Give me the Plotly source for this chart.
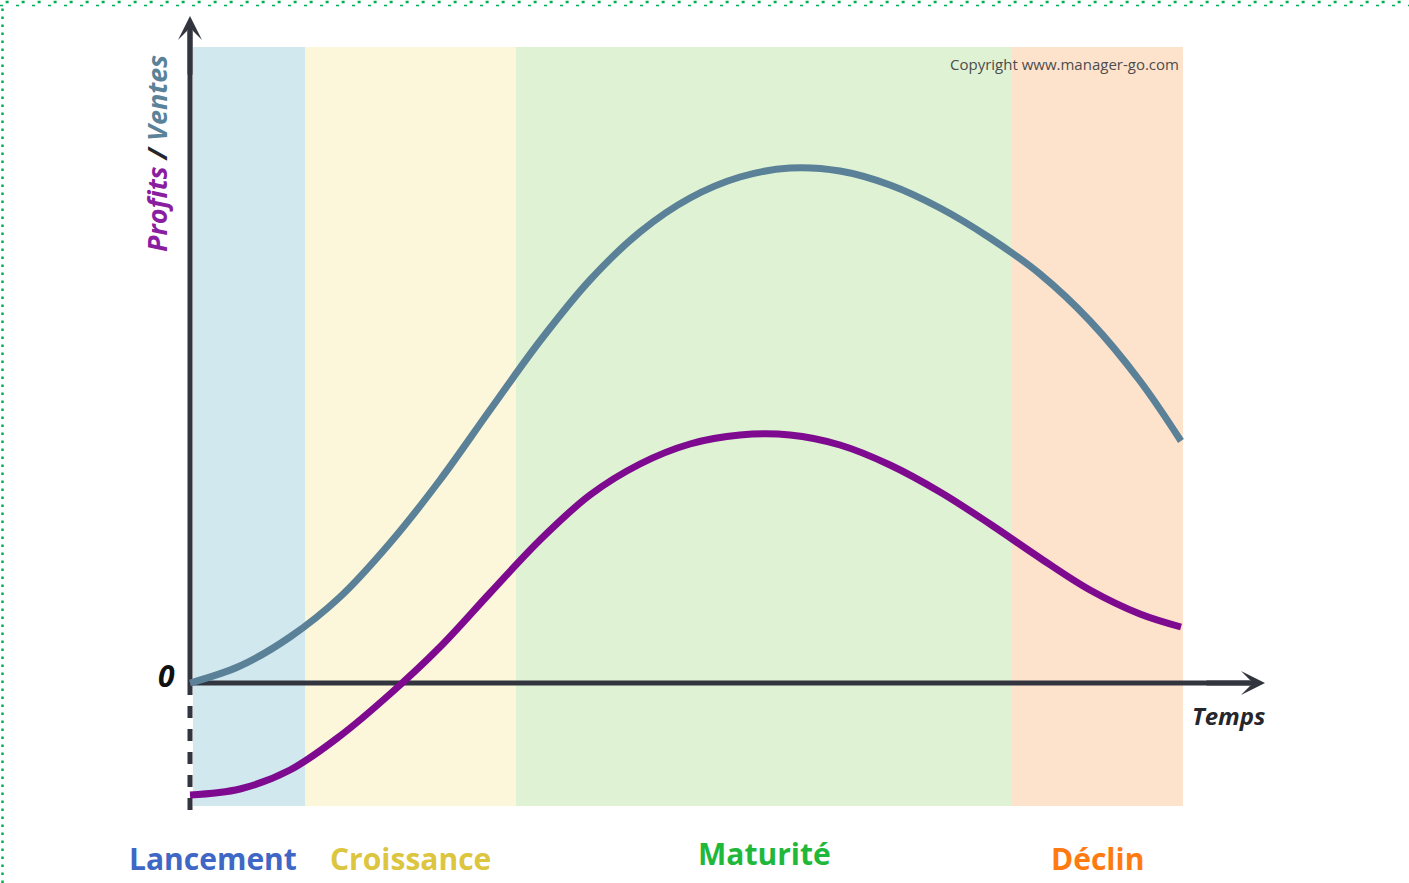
import plotly.graph_objects as go

# ---------------- data (time units, value units) ----------------
phase_names = ["Lancement", "Croissance", "Maturité", "Déclin"]
phase_edges = [0, 11.5, 32.6, 82.2, 99.3]
phase_fill = ["#d1e8ee", "#fcf7da", "#dff2d4", "#fee3cc"]
phase_text_color = ["#3f67c5", "#dcc53f", "#1fb83b", "#ff7b12"]

time_t = [0, 5, 10, 15, 20, 25, 30, 35, 40, 45, 50, 55, 60, 65, 70, 75, 80, 85, 90, 95, 99.1]
ventes_v = [0, 1.7, 4.6, 8.6, 14.0, 20.3, 27.3, 34.2, 40.3, 45.1, 48.5, 50.6, 51.5, 51.2,
            49.8, 47.5, 44.5, 40.9, 36.2, 30.2, 24.2]
profits_v = [-11.2, -10.6, -8.7, -5.3, -1.1, 3.6, 9.0, 14.3, 18.8, 21.9, 23.9, 24.8, 24.8,
             23.8, 21.8, 19.1, 15.9, 12.5, 9.3, 6.9, 5.6]

band_top = 63.6
band_bottom = -12.3
x_axis_end = 107.5
y_axis_top = 66.7
y_axis_dash_end = -12.7

W, H = 1409, 883
AXIS_COLOR = "#32343e"


def tx(px):
    return (px - 190) / 10.0


def vy(py):
    return (683 - py) / 10.0


fig = go.Figure()

# phase bands
for i in range(4):
    fig.add_shape(type="rect", xref="x", yref="y",
                  x0=phase_edges[i] + (0.3 if i == 0 else 0), x1=phase_edges[i + 1],
                  y0=band_bottom, y1=band_top,
                  fillcolor=phase_fill[i], line=dict(width=0), layer="below")

# axes (below curves)
fig.add_shape(type="line", xref="x", yref="y", x0=0, x1=x_axis_end - 1.5, y0=0, y1=0,
              line=dict(color=AXIS_COLOR, width=5), layer="below")
fig.add_shape(type="line", xref="x", yref="y", x0=0, x1=0, y0=0, y1=y_axis_top - 1.5,
              line=dict(color=AXIS_COLOR, width=5), layer="below")
fig.add_shape(type="line", xref="x", yref="y", x0=0, x1=0, y0=0, y1=y_axis_dash_end,
              line=dict(color=AXIS_COLOR, width=5, dash="12px,11px"), layer="below")

# curves
fig.add_trace(go.Scatter(x=time_t, y=ventes_v, mode="lines", name="Ventes",
                         line=dict(color="#5a8197", width=7, shape="spline", smoothing=1.0),
                         hoverinfo="skip"))
fig.add_trace(go.Scatter(x=time_t, y=profits_v, mode="lines", name="Profits",
                         line=dict(color="#7d0a8f", width=7, shape="spline", smoothing=1.0),
                         hoverinfo="skip"))

annotations = []
# arrow heads
annotations.append(dict(x=x_axis_end, y=0, ax=x_axis_end - 6, ay=0, xref="x", yref="y",
                        axref="x", ayref="y", text="", showarrow=True, arrowhead=3,
                        arrowwidth=5, arrowsize=0.8, arrowcolor=AXIS_COLOR))
annotations.append(dict(x=0, y=y_axis_top, ax=0, ay=y_axis_top - 6, xref="x", yref="y",
                        axref="x", ayref="y", text="", showarrow=True, arrowhead=3,
                        arrowwidth=5, arrowsize=0.8, arrowcolor=AXIS_COLOR))

# phase labels
label_pos = [(213, 858), (410, 858), (764, 853), (1097, 858)]
for name, col, (px, py) in zip(phase_names, phase_text_color, label_pos):
    annotations.append(dict(x=tx(px), y=vy(py), xref="x", yref="y", text="<b>%s</b>" % name,
                            showarrow=False, xanchor="center", yanchor="middle",
                            font=dict(family="Open Sans", size=30, color=col)))

# zero label
annotations.append(dict(x=tx(166), y=vy(675), xref="x", yref="y", text="<b><i>0</i></b>",
                        showarrow=False, font=dict(family="Open Sans", size=30, color="#111111")))
# Temps label
annotations.append(dict(x=tx(1228), y=vy(715), xref="x", yref="y", text="<b><i>Temps</i></b>",
                        showarrow=False, font=dict(family="Open Sans", size=24, color="#25262c")))
# y title
annotations.append(dict(x=tx(156), y=vy(154), xref="x", yref="y", textangle=-90,
                        text="<b><i><span style='color:#8a1ea0'>Profits</span>"
                             "<span style='color:#25262c'> / </span>"
                             "<span style='color:#5a8298'>Ventes</span></i></b>",
                        showarrow=False, font=dict(family="Open Sans", size=27)))
# copyright
annotations.append(dict(x=tx(1181), y=vy(64), xref="x", yref="y", xanchor="right",
                        text="Copyright www.manager-go.com", showarrow=False,
                        font=dict(family="Open Sans", size=15, color="#4d4d4d")))

fig.update_layout(annotations=annotations)

# dotted frame (decoration)
fig.add_shape(type="line", xref="paper", yref="paper", x0=0.004, x1=1, y0=1 - 2 / H, y1=1 - 2 / H,
              line=dict(color="#00b050", width=2.5, dash="3px,13px"))
fig.add_shape(type="line", xref="paper", yref="paper", x0=0.0, x1=1, y0=1 - 5.5 / H, y1=1 - 5.5 / H,
              line=dict(color="#00b050", width=1.5, dash="3px,13px"))
fig.add_shape(type="line", xref="paper", yref="paper", x0=2.5 / W, x1=2.5 / W, y0=0, y1=1 - 8 / H,
              line=dict(color="#00b050", width=2.5, dash="2.5px,5.5px"))

fig.update_xaxes(range=[tx(0), tx(W)], visible=False, fixedrange=True)
fig.update_yaxes(range=[vy(H), vy(0)], visible=False, fixedrange=True)
fig.update_layout(width=W, height=H, margin=dict(l=0, r=0, t=0, b=0),
                  paper_bgcolor="white", plot_bgcolor="white", showlegend=False)

fig.write_html("out.html", config={"displayModeBar": False},
               post_script="document.body.style.margin='0';document.body.style.overflow='hidden';")
